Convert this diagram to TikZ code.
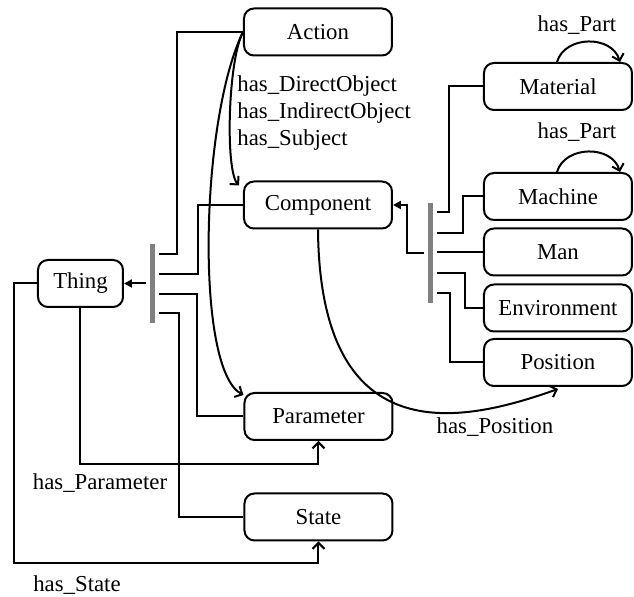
\documentclass[tikz,border=0pt]{standalone}
\usepackage{fontspec}
\setmainfont{Liberation Serif}
\usetikzlibrary{arrows.meta,calc}
\tikzset{
  box/.style={draw,line width=1pt,rounded corners=5pt,minimum width=74pt,minimum height=23.5pt,inner sep=1pt},
  bar/.style={fill=gray,minimum width=2.5pt,inner sep=0pt,outer sep=2pt},
  link/.style={line width=1pt},
  rel/.style={line width=1pt,-{Straight Barb[length=3pt,width=6pt]}},
  isa/.style={line width=1pt,-{Triangle[length=4pt,width=4pt]}}
}
\begin{document}
\begin{tikzpicture}[x=0.5pt,y=-0.5pt]\fontsize{11.4}{13.5}\selectfont
\useasboundingbox (0,0) rectangle (634,597);
\node[box] (action) at (318,32) {Action};
\node[box] (component) at (318,205) {Component};
\node[box] (parameter) at (318.5,416.5) {Parameter};
\node[box] (state) at (318.5,517) {State};
\node[box,minimum width=42.5pt] (thing) at (80.5,283.5) {Thing};
\foreach \n/\t/\y in {material/Material/86.5,machine/Machine/196.5,man/Man/252,environment/Environment/308,position/Position/362.5}
  \node[box] (\n) at (558,\y) {\t};
\node[bar,minimum height=39.5pt] (lbar) at (153,283.5) {};
\node[bar,minimum height=50pt] (rbar) at (431,253) {};
% left bar
\draw[isa] (lbar.west) -- (thing.east);
\draw[link] (action.west) -- ++(-66,0) |- (lbar.east |- 0,254);
\draw[link] (component.west) -- ++(-45,0) |- (lbar.east |- 0,274);
\draw[link] (parameter.west) -- ++(-46,0) |- (lbar.east |- 0,294);
\draw[link] (state.west) -- ++(-64,0) |- (lbar.east |- 0,313);
% right bar
\draw[isa] (rbar.west) -- ++(-17,0) |- (component.east);
\draw[link] (material.west) -- ++(-34,0) |- (rbar.east |- 0,212);
\draw[link] (machine.west) -- ++(-20,0) |- (rbar.east |- 0,233);
\draw[link] (man.west) -- (rbar.east |- man.west);
\draw[link] (environment.west) -- ++(-18,0) |- (rbar.east |- 0,273);
\draw[link] (position.west) -- ++(-33,0) |- (rbar.east |- 0,293);
% relations
\draw[rel] (action.west) .. controls (228,60) and (225,170) .. ($(component.north west)+(-4,5)$);
\draw[rel] (action.west) .. controls (200,120) and (195,370) .. ($(parameter.north west)+(0,3)$);
\node[anchor=west,align=left,inner sep=0pt] (acts) at (237,113) {has\_DirectObject\\has\_IndirectObject\\has\_Subject};
\draw[rel] (component.south) .. controls (320,460) and (470,420) .. ($(position.south)+(0,2)$);
\node (haspos) at (495,427) {has\_Position};
\draw[rel] (thing.south) -- ++(0,156) -| (parameter.south);
\node (haspar) at (100,483) {has\_Parameter};
\draw[rel] (thing.west) -- ++(-23,0) -- ++(0,280) -| (state.south);
\node (hasst) at (77,585) {has\_State};
\draw[rel] ($(material.north)+(-1,0)$) .. controls (565,35) and (612,35) .. ($(material.north)+(62,0)$);
\node (part1) at (577,25) {has\_Part};
\draw[rel] ($(machine.north)+(-1,0)$) .. controls (565,145) and (612,145) .. ($(machine.north)+(62,0)$);
\node (part2) at (577,132) {has\_Part};
\end{tikzpicture}
\end{document}
